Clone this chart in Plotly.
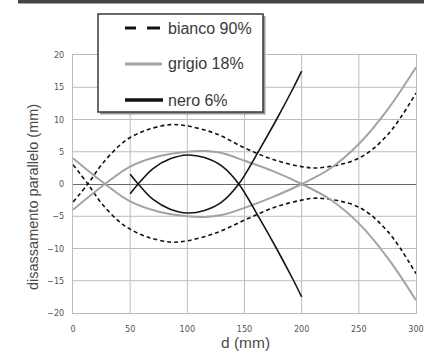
import plotly.graph_objects as go

# distance d (mm) and parallel offset (mm) for each reflectance
x_bianco = [0, 13, 25, 39, 50, 65, 85, 100, 125, 150, 175, 200, 215, 250, 275, 300]
bianco_a = [3.0, 0, -3.0, -5.6, -7.0, -8.2, -9.0, -8.8, -7.6, -5.6, -3.7, -2.5, -2.2, -3.6, -7.3, -13.9]
bianco_b = [-2.8, 0, 3.0, 5.7, 7.2, 8.4, 9.2, 9.0, 7.8, 5.6, 3.8, 2.7, 2.5, 4.0, 7.6, 14.1]

x_grigio = [0, 28, 50, 75, 100, 115, 130, 150, 175, 200, 225, 250, 275, 300]
grigio_a = [4.0, 0, -2.7, -4.3, -5.0, -5.1, -4.8, -3.7, -2.0, 0, 2.4, 6.2, 11.5, 18.1]
grigio_b = [-4.0, 0, 2.7, 4.3, 5.0, 5.1, 4.8, 3.6, 2.0, 0, -2.4, -6.1, -11.4, -18.0]

x_nero = [50, 57, 70, 85, 100, 115, 130, 145, 163, 178, 193, 200]
nero_a = [1.5, 0, -2.4, -3.9, -4.5, -4.1, -2.8, 0, 5.3, 10.0, 15.0, 17.5]
nero_b = [-1.5, 0, 2.4, 3.9, 4.5, 4.1, 2.8, 0, -5.3, -10.0, -15.0, -17.5]

legend_labels = ["bianco 90%", "grigio 18%", "nero 6%"]
x_ticks = [0, 50, 100, 150, 200, 250, 300]
y_ticks = [-20, -15, -10, -5, 0, 5, 10, 15, 20]

W, H = 424, 360
L, R, T, B = 73, 416, 55, 313


def px(p):
    return (p - L) / (R - L)


def py(p):
    return (B - p) / (B - T)


dash_style = dict(color="#111111", width=1.6, dash="4px,3px")
grey_style = dict(color="#a3a3a3", width=2)
black_style = dict(color="#151515", width=1.6)

fig = go.Figure()
for xs, ys, st in [
    (x_bianco, bianco_a, dash_style),
    (x_bianco, bianco_b, dash_style),
    (x_grigio, grigio_a, grey_style),
    (x_grigio, grigio_b, grey_style),
    (x_nero, nero_a, black_style),
    (x_nero, nero_b, black_style),
]:
    fig.add_trace(go.Scatter(x=xs, y=ys, mode="lines",
                             line=dict(shape="spline", smoothing=1, **st),
                             showlegend=False, hoverinfo="skip"))

grid_col = "#bcbcbc"
tick_font = dict(family="Liberation Sans Narrow, DejaVu Sans Condensed, Arial Narrow", size=9, color="#555555")
fig.update_xaxes(range=[0, 300], tickmode="array", tickvals=x_ticks, showgrid=False,
                 zeroline=False, showline=True, linecolor=grid_col, linewidth=1, mirror=True,
                 ticks="", tickfont=tick_font, fixedrange=True, ticklabelstandoff=7)
fig.update_yaxes(range=[-20, 20], tickmode="array", tickvals=y_ticks, showgrid=False,
                 zeroline=True, zerolinecolor="#6a6a6a", zerolinewidth=1,
                 showline=True, linecolor=grid_col, linewidth=1, mirror=True,
                 ticks="", tickfont=tick_font, fixedrange=True, ticklabelstandoff=6)

shapes = []
# grid at every tick, placed on the data axes
for t in x_ticks[1:-1]:
    shapes.append(dict(type="line", xref="x", yref="y", x0=t, x1=t, y0=y_ticks[0], y1=y_ticks[-1],
                       line=dict(color=grid_col, width=1), layer="below"))
for t in y_ticks[1:-1]:
    if t != 0:
        shapes.append(dict(type="line", xref="x", yref="y", x0=x_ticks[0], x1=x_ticks[-1], y0=t, y1=t,
                           line=dict(color=grid_col, width=1), layer="below"))
# dark band along the top edge
shapes.append(dict(type="rect", xref="paper", yref="paper", x0=px(18), x1=px(W + 2), y0=py(-2), y1=py(3.5),
                   fillcolor="#454545", line=dict(width=0), layer="above"))
# legend box with its shadow
shapes.append(dict(type="rect", xref="paper", yref="paper", x0=px(100), x1=px(265.5), y0=py(114.5), y1=py(16),
                   fillcolor="#9a9a9a", line=dict(width=0), layer="above"))
shapes.append(dict(type="rect", xref="paper", yref="paper", x0=px(98), x1=px(263), y0=py(112), y1=py(14),
                   fillcolor="white", line=dict(color="#3a3a3a", width=1.5), layer="above"))
# legend samples
for a, b in [(125, 136), (147, 160)]:
    shapes.append(dict(type="line", xref="paper", yref="paper", x0=px(a), x1=px(b), y0=py(28), y1=py(28),
                       line=dict(color="#111111", width=3), layer="above"))
shapes.append(dict(type="line", xref="paper", yref="paper", x0=px(125), x1=px(162), y0=py(64), y1=py(64),
                   line=dict(color="#a3a3a3", width=3), layer="above"))
shapes.append(dict(type="line", xref="paper", yref="paper", x0=px(125), x1=px(163), y0=py(100), y1=py(100),
                   line=dict(color="#111111", width=3.5), layer="above"))

label_font = dict(family="Liberation Sans, Arial, Helvetica", size=16, color="#3a3a3a")
annotations = []
for lab, yy in zip(legend_labels, [28, 64, 100]):
    annotations.append(dict(text=lab, xref="paper", yref="paper", x=px(166), y=py(yy),
                            xanchor="left", yanchor="middle", showarrow=False, font=label_font))
title_font = dict(family="Liberation Sans, Arial, Helvetica", size=14.5, color="#4a4a4a")
annotations.append(dict(text="disassamento parallelo (mm)", xref="paper", yref="paper",
                        x=px(33), y=py(197), textangle=-90, xanchor="center", yanchor="middle",
                        showarrow=False, font=title_font))
annotations.append(dict(text="d (mm)", xref="paper", yref="paper", x=px(245), y=py(342),
                        xanchor="center", yanchor="middle", showarrow=False,
                        font=dict(family="Liberation Sans, Arial, Helvetica", size=15.5, color="#4a4a4a")))

fig.update_layout(template="none", width=W, height=H, margin=dict(l=L, r=W - R, t=T, b=H - B),
                  paper_bgcolor="white", plot_bgcolor="white",
                  shapes=shapes, annotations=annotations, showlegend=False)

fig.write_html("out.html")
